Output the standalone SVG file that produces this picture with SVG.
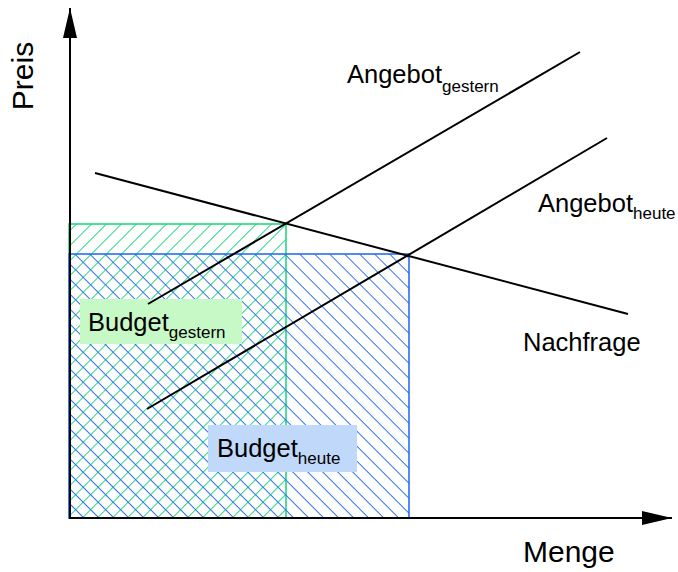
<svg xmlns="http://www.w3.org/2000/svg" width="678" height="572" viewBox="0 0 678 572">
<style>
text{font-family:"Liberation Sans",Arial,sans-serif;fill:#000}
.lbl{font-size:25.5px}
.sub{font-size:17px}
.ax{stroke:#000;stroke-width:2;fill:none}
.curve{stroke:#000;stroke-width:2;fill:none}
</style>
<defs>
<pattern id="hg" patternUnits="userSpaceOnUse" width="10.6" height="10.6" patternTransform="rotate(45)">
<line x1="0" y1="-1" x2="0" y2="11.6" stroke="#22d884" stroke-width="1.3" shape-rendering="crispEdges"/>
</pattern>
<pattern id="hb" patternUnits="userSpaceOnUse" width="10.6" height="10.6" patternTransform="rotate(-45)">
<line x1="0" y1="-1" x2="0" y2="11.6" stroke="#2a6ff0" stroke-width="1.3" shape-rendering="crispEdges"/>
</pattern>
<marker id="ah" markerUnits="userSpaceOnUse" markerWidth="32" markerHeight="16" refX="30" refY="7" orient="auto">
<path d="M0,0 L30,7 L0,14 Z" fill="#000"/>
</marker>
</defs>
<g id="budget-gestern-area">
<rect x="69" y="224" width="217" height="294" fill="url(#hg)" stroke="#22d884" stroke-width="1.6"/>
</g>
<g id="budget-heute-area">
<rect x="69" y="254" width="340" height="264" fill="url(#hb)" stroke="#2a6ff0" stroke-width="1.6"/>
</g>
<g id="budget-gestern-label">
<rect x="80" y="299" width="162" height="45" fill="#c6f9c6"/>
<text x="88" y="331" class="lbl">Budget<tspan class="sub" dy="7">gestern</tspan></text>
</g>
<g id="budget-heute-label">
<rect x="208" y="425" width="149" height="47" fill="#c0d9fb"/>
<text x="217" y="457" class="lbl">Budget<tspan class="sub" dy="7">heute</tspan></text>
</g>
<g id="connectors">
<line class="curve" x1="148" y1="304" x2="580" y2="52"/>
<line class="curve" x1="147" y1="409" x2="607" y2="138"/>
<line class="curve" x1="95" y1="173" x2="628" y2="314"/>
</g>
<g id="axes">
<line class="ax" x1="70" y1="519" x2="70" y2="8" marker-end="url(#ah)"/>
<line class="ax" x1="69" y1="518" x2="672" y2="518" marker-end="url(#ah)"/>
</g>
<g id="angebot-gestern">
<text x="347" y="83" class="lbl">Angebot<tspan class="sub" dy="9">gestern</tspan></text>
</g>
<g id="angebot-heute">
<text x="538" y="212" class="lbl">Angebot<tspan class="sub" dy="7">heute</tspan></text>
</g>
<g id="nachfrage">
<text x="523" y="351" class="lbl">Nachfrage</text>
</g>
<g id="preis">
<text x="33" y="76" font-size="30" text-anchor="middle" transform="rotate(-90 33 76)">Preis</text>
</g>
<g id="menge">
<text x="523" y="562" font-size="30">Menge</text>
</g>
</svg>
